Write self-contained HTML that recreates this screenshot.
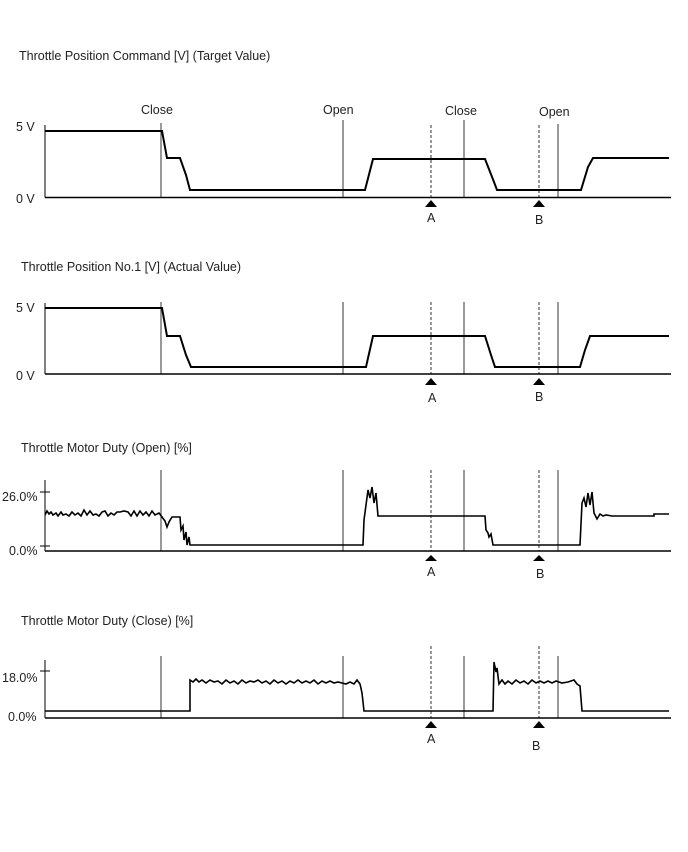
<!DOCTYPE html>
<html><head><meta charset="utf-8"><style>
html,body{margin:0;padding:0;background:#fff;}
svg{display:block;font-family:"Liberation Sans",Arial,sans-serif;}
text{fill:#222;font-size:12.5px;}
</style></head><body>
<svg width="688" height="852" viewBox="0 0 688 852" xmlns="http://www.w3.org/2000/svg">
<g fill="none" stroke="#000">
<!-- Chart 1 -->
<line x1="45" y1="125" x2="45" y2="197.5" stroke-width="1"/>
<line x1="45" y1="197.5" x2="671" y2="197.5" stroke-width="1.5"/>
<line x1="161" y1="123" x2="161" y2="197" stroke-width="0.8"/>
<line x1="343" y1="120" x2="343" y2="197" stroke-width="0.8"/>
<line x1="464" y1="120" x2="464" y2="197" stroke-width="0.8"/>
<line x1="558" y1="124" x2="558" y2="197" stroke-width="0.8"/>
<line x1="431" y1="125" x2="431" y2="197" stroke-width="0.8" stroke-dasharray="3,2"/>
<line x1="539" y1="125" x2="539" y2="197" stroke-width="0.8" stroke-dasharray="3,2"/>
<polyline stroke-width="2" points="45,131 162,131 167,158 180,158 186,175 190,190 365,190 373,159 485,159 494,182 497,190 581,190 588,167 593,158 669,158"/>
<!-- Chart 2 -->
<line x1="45" y1="303" x2="45" y2="374" stroke-width="1"/>
<line x1="45" y1="374" x2="671" y2="374" stroke-width="1.5"/>
<line x1="161" y1="302" x2="161" y2="374" stroke-width="0.8"/>
<line x1="343" y1="302" x2="343" y2="374" stroke-width="0.8"/>
<line x1="464" y1="302" x2="464" y2="374" stroke-width="0.8"/>
<line x1="558" y1="302" x2="558" y2="374" stroke-width="0.8"/>
<line x1="431" y1="302" x2="431" y2="374" stroke-width="0.8" stroke-dasharray="3,2"/>
<line x1="539" y1="302" x2="539" y2="374" stroke-width="0.8" stroke-dasharray="3,2"/>
<polyline stroke-width="2" points="45,308 162,308 167,336 180,336 186,355 191,367 366,367 373,336 485,336 491,355 495,367 580,367 585,350 590,336 669,336"/>
<!-- Chart 3 -->
<line x1="45" y1="480" x2="45" y2="551" stroke-width="1"/>
<line x1="45" y1="551" x2="671" y2="551" stroke-width="1.5"/>
<line x1="40" y1="492" x2="50" y2="492" stroke-width="1"/>
<line x1="40" y1="546" x2="50" y2="546" stroke-width="1"/>
<line x1="161" y1="470" x2="161" y2="551" stroke-width="0.8"/>
<line x1="343" y1="470" x2="343" y2="551" stroke-width="0.8"/>
<line x1="464" y1="470" x2="464" y2="551" stroke-width="0.8"/>
<line x1="558" y1="470" x2="558" y2="551" stroke-width="0.8"/>
<line x1="431" y1="470" x2="431" y2="551" stroke-width="0.8" stroke-dasharray="3,2"/>
<line x1="539" y1="470" x2="539" y2="551" stroke-width="0.8" stroke-dasharray="3,2"/>
<polyline stroke-width="1.6" points="45,515 47,511 49,514 51,512 53,515 56,513 58,516 61,512 63,515 66,514 69,516 72,512 75,515 78,513 81,516 84,510 87,515 90,511 93,515 96,514 99,516 102,512 105,511 108,516 111,513 114,515 117,512 120,512 124,511 128,512 131,516 134,511 137,516 140,511 143,515 146,512 149,516 152,511 155,515 159,513 162,517 165,521 167,527 169,522 172,517 180,517 181,530 183,526 184,540 186,532 187,545 189,537 190,545 363,545 364,520 366,505 368,490 370,498 372,487 374,503 376,493 378,516 485,516 486,530 488,533 489,537 491,534 493,545 580,545 582,503 584,498 586,507 588,493 590,505 592,492 594,513 597,519 600,514 603,516 606,515 612,516 654,516 654,514 669,514"/>
<!-- Chart 4 -->
<line x1="45" y1="660" x2="45" y2="718" stroke-width="1"/>
<line x1="45" y1="718" x2="671" y2="718" stroke-width="1.5"/>
<line x1="40" y1="671" x2="50" y2="671" stroke-width="1"/>
<line x1="161" y1="656" x2="161" y2="718" stroke-width="0.8"/>
<line x1="343" y1="656" x2="343" y2="718" stroke-width="0.8"/>
<line x1="464" y1="656" x2="464" y2="718" stroke-width="0.8"/>
<line x1="558" y1="656" x2="558" y2="718" stroke-width="0.8"/>
<line x1="431" y1="646" x2="431" y2="718" stroke-width="0.8" stroke-dasharray="3,2"/>
<line x1="539" y1="646" x2="539" y2="718" stroke-width="0.8" stroke-dasharray="3,2"/>
<polyline stroke-width="1.6" points="45,711 190,711 190,680 193,682 196,679 199,682 202,680 206,683 210,680 214,682 218,681 222,684 226,680 230,683 234,681 238,684 242,680 246,683 250,681 254,682 258,680 262,683 266,681 270,684 274,680 278,683 282,681 286,684 290,681 294,683 298,680 302,683 306,681 310,683 314,680 318,684 322,681 326,683 330,681 334,683 338,682 342,683 346,684 350,682 354,684 357,680 360,684 362,693 364,711 493,711 494,662 496,672 497,668 499,684 502,680 505,684 508,681 512,684 516,680 520,683 524,681 528,684 532,680 536,683 540,681 544,683 548,681 552,683 556,681 562,683 568,682 574,680 577,684 580,686 582,711 669,711"/>
</g>
<g fill="#000">
<polygon points="425,207 431,200 437,207"/>
<polygon points="533,207 539,200 545,207"/>
<polygon points="425,385 431,378 437,385"/>
<polygon points="533,385 539,378 545,385"/>
<polygon points="425,561 431,555 437,561"/>
<polygon points="533,561 539,555 545,561"/>
<polygon points="425,728 431,721 437,728"/>
<polygon points="533,728 539,721 545,728"/>
</g>
<text x="19" y="60">Throttle Position Command [V] (Target Value)</text>
<text x="141" y="114">Close</text>
<text x="323" y="114">Open</text>
<text x="445" y="115">Close</text>
<text x="539" y="116">Open</text>
<text x="16" y="131">5 V</text>
<text x="16" y="203">0 V</text>
<text x="427" y="222">A</text>
<text x="535" y="224">B</text>
<text x="21" y="271">Throttle Position No.1 [V] (Actual Value)</text>
<text x="16" y="312">5 V</text>
<text x="16" y="380">0 V</text>
<text x="428" y="402">A</text>
<text x="535" y="401">B</text>
<text x="21" y="452">Throttle Motor Duty (Open) [%]</text>
<text x="2" y="501">26.0%</text>
<text x="9" y="555">0.0%</text>
<text x="427" y="576">A</text>
<text x="536" y="578">B</text>
<text x="21" y="625">Throttle Motor Duty (Close) [%]</text>
<text x="2" y="682">18.0%</text>
<text x="8" y="721">0.0%</text>
<text x="427" y="743">A</text>
<text x="532" y="750">B</text>
</svg>
</body></html>
